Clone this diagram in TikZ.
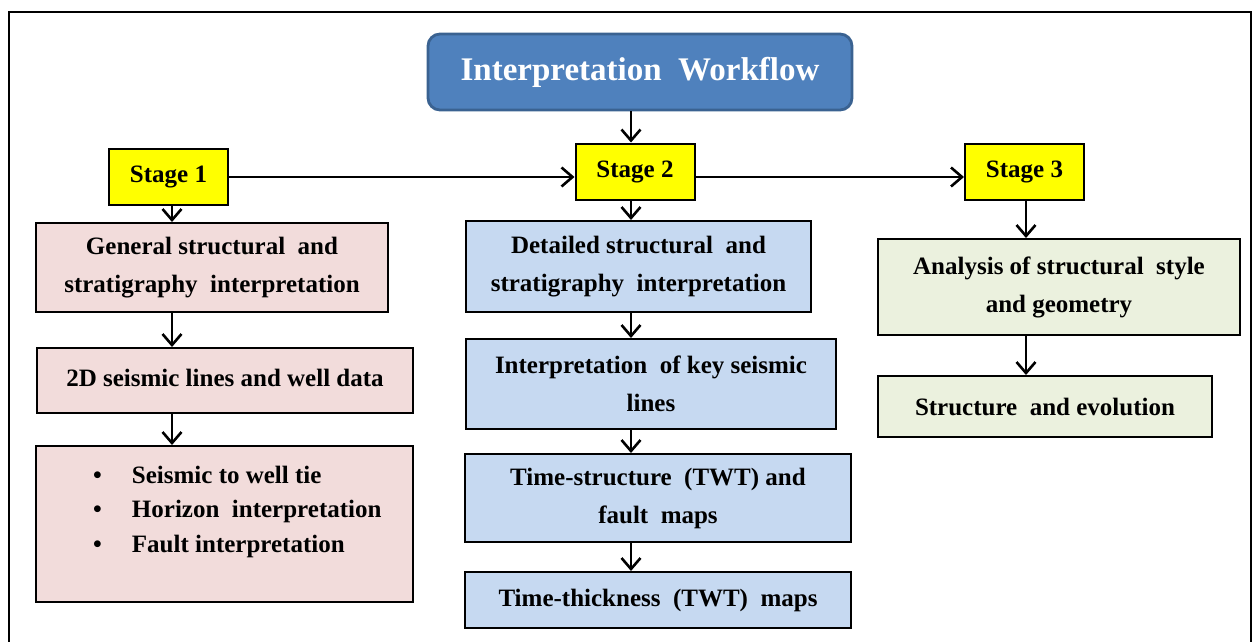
\documentclass[tikz,border=0pt]{standalone}
\usepackage{fontspec}
\setmainfont{Liberation Serif}
\usetikzlibrary{positioning, arrows.meta}
\definecolor{titleblue}{HTML}{4F81BD}
\definecolor{titleedge}{HTML}{3A6291}
\definecolor{stageyellow}{HTML}{FFFF00}
\definecolor{pinkfill}{HTML}{F2DCDB}
\definecolor{bluefill}{HTML}{C6D9F1}
\definecolor{greenfill}{HTML}{EBF1DE}
\tikzset{
    flow/.style={-{Straight Barb[length=11pt,width=19pt,line width=2.6pt]}, line width=2.6pt},
    stagebox/.style={draw, line width=2pt, fill=stageyellow, minimum width=119pt,
        minimum height=56pt, inner sep=0pt, font=\bfseries\fontsize{25}{28}\selectfont},
    box/.style={draw, line width=2pt, align=center, inner sep=0pt,
        font=\bfseries\fontsize{25}{38}\selectfont},
    pinkbox/.style={box, fill=pinkfill},
    bluebox/.style={box, fill=bluefill},
    greenbox/.style={box, fill=greenfill},
}

\begin{document}
\begin{tikzpicture}[x=1pt, y=-1pt]
    \useasboundingbox (0,0) rectangle (1254,642);
    \draw[line width=2pt] (9,650) -- (9,12) -- (1251,12) -- (1251,650);

    \node[draw=titleedge, line width=2.8pt, fill=titleblue, rounded corners=12pt,
        minimum width=424pt, minimum height=76pt, text=white,
        font=\bfseries\fontsize{33}{36}\selectfont] (title) at (640,72) {Interpretation~~Workflow};

    \node[stagebox] (s1) at (168.5,177) {Stage 1};
    \node[stagebox] (s2) at (635,171.5) {Stage 2};
    \node[stagebox] (s3) at (1024.5,172) {Stage 3};

    % stage 1 column
    \node[pinkbox, minimum width=352pt, minimum height=89pt] (p1) at (212,267.5)
        {General structural~ and\\stratigraphy~ interpretation};
    \node[pinkbox, minimum width=376pt, minimum height=65pt] (p2) at (225,380.5)
        {\raisebox{5pt}{2D seismic lines and well data}};
    \node[pinkbox] (p3) at (224.5,524)
        {\begin{minipage}[c][156pt][t]{377pt}\raggedright
         \fontsize{25}{34.5}\selectfont\vspace*{20pt}%
         \hspace*{57pt}\makebox[39pt][l]{\textbullet}Seismic to well tie\\
         \hspace*{57pt}\makebox[39pt][l]{\textbullet}Horizon~ interpretation\\
         \hspace*{57pt}\makebox[39pt][l]{\textbullet}Fault interpretation
         \end{minipage}};

    % stage 2 column
    \node[bluebox, minimum width=345pt, minimum height=91pt] (b1) at (638.5,266.5)
        {Detailed structural~ and\\stratigraphy~ interpretation};
    \node[bluebox, minimum width=370pt, minimum height=90pt] (b2) at (651,384)
        {Interpretation~ of key seismic\\lines};
    \node[bluebox, minimum width=386pt, minimum height=88pt] (b3) at (658,498)
        {Time-structure~ (TWT) and\\fault~ maps};
    \node[bluebox, minimum width=386pt, minimum height=56pt] (b4) at (658,600)
        {Time-thickness~ (TWT)~ maps};

    % stage 3 column
    \node[greenbox, minimum width=362pt, minimum height=96pt] (g1) at (1059,287)
        {Analysis of structural~ style\\and geometry};
    \node[greenbox, minimum width=334pt, minimum height=61pt] (g2) at (1045,406.5)
        {Structure~ and evolution};

    \draw[flow] (title.south -| 631,0) -- (s2.north -| 631,0);
    \draw[flow] (s1.east) -- (s1.east -| s2.west);
    \draw[flow] (s1.east -| s2.east) -- (s1.east -| s3.west);

    \draw[flow] (s1.south -| 172,0) -- (p1.north -| 172,0);
    \draw[flow] (p1.south -| 172,0) -- (p2.north -| 172,0);
    \draw[flow] (p2.south -| 172,0) -- (p3.north -| 172,0);

    \draw[flow] (s2.south -| 631,0) -- (b1.north -| 631,0);
    \draw[flow] (b1.south -| 631,0) -- (b2.north -| 631,0);
    \draw[flow] (b2.south -| 631,0) -- (b3.north -| 631,0);
    \draw[flow] (b3.south -| 631,0) -- (b4.north -| 631,0);

    \draw[flow] (s3.south -| 1026,0) -- (g1.north -| 1026,0);
    \draw[flow] (g1.south -| 1026,0) -- (g2.north -| 1026,0);
\end{tikzpicture}
\end{document}
